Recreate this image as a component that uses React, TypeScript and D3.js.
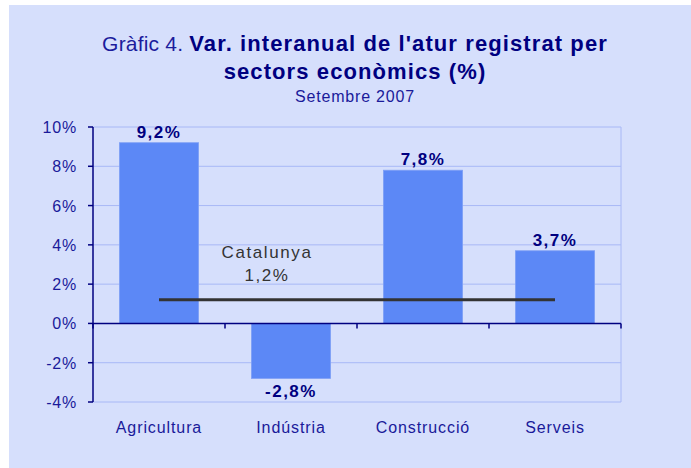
import React from "react";
import * as d3 from "d3";

const categories = ["Agricultura", "Indústria", "Construcció", "Serveis"];
const values = [9.2, -2.8, 7.8, 3.7];
const valueLabels = ["9,2%", "-2,8%", "7,8%", "3,7%"];
const catalunya = 1.2;
const catalunyaLabel = ["Catalunya", "1,2%"];
const yTicks = [-4, -2, 0, 2, 4, 6, 8, 10];

const W = 691;
const H = 468;
const FONT = "'Liberation Sans', Arial, sans-serif";
const NAVY = "#000080";
const TEXT = "#1a1a9a";

export default function App() {
  const X = d3.scaleBand<string>().domain(categories).range([93, 621]).paddingInner(0.4).paddingOuter(0.2);
  const step = X.step();
  const left = 93;
  const Y = d3.scaleLinear().domain([-4, 10]).range([402, 127]);

  const lineX1 = X(categories[0])! + X.bandwidth() / 2;
  const lineX2 = X(categories[categories.length - 1])! + X.bandwidth() / 2;

  return (
    <svg width={W} height={H} style={{ position: "fixed", left: 0, top: 0 }} fontFamily={FONT}>
      <rect x={0} y={0} width={W} height={H} fill="#ffffff" />
      <rect x={9} y={5} width={W - 9} height={H - 5} fill="#D6DFFC" />

      {/* title */}
      <text x={355} y={51} textAnchor="middle" fontSize={22} fill={NAVY} letterSpacing={1.1}>
        <tspan fontWeight="300" fill="#1c1c9c" fontSize={21} letterSpacing={0.2}>Gràfic 4. </tspan>
        <tspan fontWeight="bold">Var. interanual de l'atur registrat per</tspan>
      </text>
      <text x={355} y={79} textAnchor="middle" fontSize={22} fontWeight="bold" fill={NAVY} letterSpacing={1.1}>
        sectors econòmics (%)
      </text>
      <text x={355} y={102} textAnchor="middle" fontSize={16} fill={TEXT} letterSpacing={0.8}>
        Setembre 2007
      </text>

      {/* grid */}
      {yTicks.filter((t) => t !== 0).map((t) => (
        <line key={t} x1={left} x2={621} y1={Y(t)} y2={Y(t)} stroke="#A8B8F6" strokeWidth={1} />
      ))}
      <line x1={621} x2={621} y1={Y(10)} y2={Y(-4)} stroke="#A8B8F6" strokeWidth={1} />

      {/* bars */}
      {categories.map((c, i) => (
        <rect
          key={c}
          x={X(c)}
          width={X.bandwidth()}
          y={Y(Math.max(0, values[i]))}
          height={Math.abs(Y(values[i]) - Y(0))}
          fill="#5C88F6"
          stroke="#7FA0F5"
          strokeWidth={0.8}
        />
      ))}

      {/* value labels */}
      {categories.map((c, i) => (
        <text
          key={c}
          x={X(c)! + X.bandwidth() / 2}
          y={values[i] >= 0 ? Y(values[i]) - 5 : Y(values[i]) + 19}
          textAnchor="middle"
          fontSize={17}
          fontWeight="bold"
          fill={NAVY}
          letterSpacing={1.5}
        >
          {valueLabels[i]}
        </text>
      ))}

      {/* Catalunya line */}
      <line x1={lineX1} x2={lineX2} y1={Y(catalunya)} y2={Y(catalunya)} stroke="#333333" strokeWidth={3} />
      <text x={267} y={258} textAnchor="middle" fontSize={17} fill="#333333" letterSpacing={1.6}>
        {catalunyaLabel[0]}
      </text>
      <text x={267} y={281} textAnchor="middle" fontSize={17} fill="#333333" letterSpacing={1.6}>
        {catalunyaLabel[1]}
      </text>

      {/* y axis */}
      <line x1={left} x2={left} y1={Y(10)} y2={Y(-4)} stroke={NAVY} strokeWidth={1.5} />
      {yTicks.map((t) => (
        <g key={t}>
          <line x1={left - 5} x2={left} y1={Y(t)} y2={Y(t)} stroke={NAVY} strokeWidth={1.5} />
          <text x={left - 16} y={Y(t) + 6} textAnchor="end" fontSize={16} fill={TEXT} letterSpacing={0.8}>
            {t}%
          </text>
        </g>
      ))}

      {/* x axis */}
      <line x1={left} x2={621} y1={Y(0)} y2={Y(0)} stroke={NAVY} strokeWidth={1.5} />
      {d3.range(categories.length + 1).map((i) => (
        <line key={i} x1={left + i * step} x2={left + i * step} y1={Y(0)} y2={Y(0) + 5} stroke={NAVY} strokeWidth={1.5} />
      ))}
      {categories.map((c) => (
        <text key={c} x={X(c)! + X.bandwidth() / 2} y={433} textAnchor="middle" fontSize={16} fill={TEXT} letterSpacing={0.9}>
          {c}
        </text>
      ))}
    </svg>
  );
}
